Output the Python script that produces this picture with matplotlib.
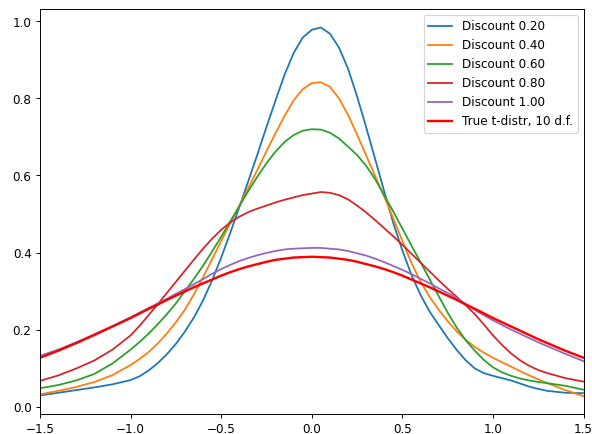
import matplotlib
matplotlib.use("Agg")
import matplotlib.pyplot as plt

DPI = 86.4

x_grid = [-1.5, -1.4, -1.3, -1.2, -1.1,
          -1.0, -0.95, -0.9, -0.85, -0.8, -0.75, -0.7, -0.65, -0.6, -0.55,
          -0.5, -0.45, -0.4, -0.35, -0.3, -0.25, -0.2, -0.15, -0.1, -0.05,
          0.0, 0.05, 0.1, 0.15, 0.2, 0.25, 0.3, 0.35, 0.4, 0.45,
          0.5, 0.55, 0.6, 0.65, 0.7, 0.75, 0.8, 0.85, 0.9, 0.95,
          1.0, 1.05, 1.1, 1.15, 1.2, 1.25, 1.3, 1.4, 1.5]

disc_020 = [0.029, 0.036, 0.043, 0.050, 0.058,
            0.069, 0.079, 0.094, 0.113, 0.136, 0.163, 0.195, 0.232, 0.276, 0.328,
            0.387, 0.451, 0.518, 0.586, 0.655, 0.726, 0.795, 0.862, 0.918, 0.958,
            0.978, 0.984, 0.968, 0.932, 0.877, 0.805, 0.725, 0.642, 0.558, 0.476,
            0.405, 0.342, 0.290, 0.247, 0.212, 0.178, 0.147, 0.120, 0.099, 0.087,
            0.080, 0.074, 0.068, 0.060, 0.052, 0.046, 0.041, 0.036, 0.035]

disc_040 = [0.032, 0.041, 0.051, 0.064, 0.082,
            0.108, 0.124, 0.142, 0.164, 0.190, 0.219, 0.252, 0.292, 0.336, 0.383,
            0.430, 0.476, 0.522, 0.568, 0.615, 0.663, 0.710, 0.755, 0.795, 0.824,
            0.840, 0.842, 0.830, 0.800, 0.757, 0.706, 0.652, 0.598, 0.545, 0.488,
            0.430, 0.373, 0.325, 0.285, 0.252, 0.222, 0.195, 0.173, 0.155, 0.140,
            0.127, 0.115, 0.104, 0.092, 0.081, 0.071, 0.061, 0.043, 0.027]

disc_060 = [0.048, 0.056, 0.068, 0.085, 0.112,
            0.148, 0.168, 0.190, 0.214, 0.240, 0.268, 0.300, 0.332, 0.366, 0.403,
            0.441, 0.481, 0.520, 0.560, 0.597, 0.632, 0.662, 0.687, 0.705, 0.716,
            0.720, 0.719, 0.711, 0.696, 0.675, 0.653, 0.625, 0.590, 0.548, 0.506,
            0.462, 0.418, 0.375, 0.331, 0.287, 0.244, 0.205, 0.172, 0.145, 0.121,
            0.102, 0.089, 0.080, 0.073, 0.068, 0.064, 0.061, 0.054, 0.044]

disc_080 = [0.067, 0.081, 0.099, 0.120, 0.148,
            0.185, 0.210, 0.238, 0.266, 0.295, 0.324, 0.353, 0.382, 0.410, 0.436,
            0.459, 0.478, 0.493, 0.505, 0.514, 0.522, 0.530, 0.537, 0.543, 0.549,
            0.553, 0.557, 0.555, 0.549, 0.538, 0.522, 0.504, 0.484, 0.463, 0.442,
            0.420, 0.397, 0.374, 0.351, 0.328, 0.306, 0.285, 0.263, 0.240, 0.213,
            0.185, 0.160, 0.138, 0.120, 0.106, 0.095, 0.087, 0.074, 0.065]

disc_100 = [0.132, 0.148, 0.167, 0.188, 0.209,
            0.232, 0.244, 0.256, 0.268, 0.280, 0.293, 0.305, 0.318, 0.331, 0.345,
            0.357, 0.368, 0.378, 0.386, 0.393, 0.399, 0.404, 0.408, 0.410, 0.411,
            0.412, 0.412, 0.410, 0.408, 0.404, 0.398, 0.392, 0.384, 0.375, 0.365,
            0.355, 0.344, 0.332, 0.320, 0.307, 0.295, 0.282, 0.266, 0.251, 0.237,
            0.224, 0.212, 0.200, 0.189, 0.178, 0.167, 0.157, 0.137, 0.118]

t_true = [0.127, 0.145, 0.165, 0.186, 0.208,
          0.230, 0.242, 0.254, 0.265, 0.277, 0.288, 0.299, 0.310, 0.320, 0.330,
          0.340, 0.349, 0.357, 0.364, 0.370, 0.376, 0.381, 0.384, 0.387, 0.388,
          0.389, 0.388, 0.387, 0.384, 0.381, 0.376, 0.370, 0.364, 0.357, 0.349,
          0.340, 0.330, 0.320, 0.310, 0.299, 0.288, 0.277, 0.265, 0.254, 0.242,
          0.230, 0.219, 0.208, 0.197, 0.186, 0.175, 0.165, 0.145, 0.127]

labels = ["Discount 0.20", "Discount 0.40", "Discount 0.60", "Discount 0.80",
          "Discount 1.00", "True t-distr, 10 d.f."]
x_ticks = [-1.5, -1.0, -0.5, 0.0, 0.5, 1.0, 1.5]
y_ticks = [0.0, 0.2, 0.4, 0.6, 0.8, 1.0]

fig = plt.figure(figsize=(592.3 / DPI, 434.3 / DPI), dpi=DPI)
W, H = 592.0, 434.0
ax = fig.add_axes([40 / W, (H - 414) / H, 543.3 / W, 404.7 / H])

series = [disc_020, disc_040, disc_060, disc_080, disc_100]
for i, ys in enumerate(series):
    ax.plot(x_grid, ys, color=f"C{i}", lw=1.5, label=labels[i])
ax.plot(x_grid, t_true, color="red", lw=2, label=labels[5])

ax.set_xlim(-1.5, 1.5)
ax.set_ylim(-0.019, 1.032)
ax.set_xticks(x_ticks)
ax.set_yticks(y_ticks)
ax.legend(loc="upper right")

fig.savefig("out.png", dpi=DPI)
